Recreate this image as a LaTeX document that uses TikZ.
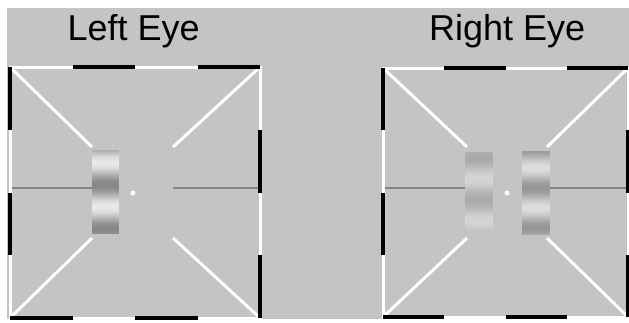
\documentclass[tikz,border=0pt]{standalone}
\usepackage{fontspec}
\setmainfont{Liberation Sans}
\definecolor{bg}{RGB}{196,196,196}
\definecolor{hline}{RGB}{132,132,132}
\newcommand\drawframe[4]{%
 \draw[frame] (#1,#2) rectangle (#3,#4);
 \pgfmathsetmacro\qx{(#3-#1)/4}%
 \pgfmathsetmacro\qy{(#4-#2)/4}%
 \draw[dashblk] (#1+\qx,#2) -- (#1+2*\qx,#2);
 \draw[dashblk] (#1+3*\qx,#2) -- (#3,#2);
 \draw[dashblk] (#3,#2+\qy) -- (#3,#2+2*\qy);
 \draw[dashblk] (#3,#2+3*\qy) -- (#3,#4);
 \draw[dashblk] (#1,#4) -- (#1+\qx,#4);
 \draw[dashblk] (#1+2*\qx,#4) -- (#1+3*\qx,#4);
 \draw[dashblk] (#1,#2) -- (#1,#2+\qy);
 \draw[dashblk] (#1,#2+2*\qy) -- (#1,#2+3*\qy);
}
\newcommand\grating[8]{%
 \foreach \i in {#3,...,#4}{%
   \pgfmathsetmacro\gph{(\i+0.5-#7)/#8}%
   \pgfmathsetmacro\gv{#5+#6*cos(\gph*360)}%
   \definecolor{gcol}{gray}{\gv}%
   \fill[gcol] (#1,\i) rectangle (#2,\i+1.3);}%
}
\begin{document}
\begin{tikzpicture}[x=1pt,y=-1pt,
  frame/.style={white,line width=3pt},
  dashblk/.style={black,line width=3.8pt},
  diag/.style={white,line width=3pt},
  midline/.style={hline,line width=2.4pt},
  eyelabel/.style={font=\fontsize{36}{40}\selectfont,inner sep=0pt,anchor=base west,text=black},
  fixdot/.style={circle,fill=white,inner sep=0pt,minimum size=5pt}]
\useasboundingbox (0,0) rectangle (629,322);
\clip (0,0) rectangle (629,322);
\fill[white] (0,0) rectangle (629,322);
\fill[bg] (7,8) rectangle (629,319);

\node[eyelabel] (lefttitle) at (67.5,40) {Left Eye};
\node[eyelabel] (righttitle) at (429,40) {Right Eye};

% ---- left eye ----
\draw[midline] (12,188) -- (92,188);
\draw[midline] (173,188) -- (258,188);
\draw[diag] (10,67) -- (92,147);
\draw[diag] (260,67) -- (173,147);
\draw[diag] (10,318) -- (92,238);
\draw[diag] (260,318) -- (173,238);
\drawframe{10}{67}{260}{318}
\grating{92}{119}{150}{233}{0.72}{0.19}{163}{44}
\node[fixdot] (ldot) at (133,193) {};

% ---- right eye ----
\draw[midline] (385,188) -- (467,188);
\draw[midline] (547,188) -- (626,188);
\draw[diag] (383,68) -- (467,147);
\draw[diag] (628,68) -- (547,147);
\draw[diag] (383,317) -- (467,238);
\draw[diag] (628,317) -- (547,238);
\drawframe{383}{68}{628}{317}
\grating{465}{493}{152}{230}{0.75}{-0.085}{158}{42}
\grating{522}{550}{151}{234}{0.73}{0.14}{168}{40}
\node[fixdot] (rdot) at (507,193) {};
\end{tikzpicture}
\end{document}
